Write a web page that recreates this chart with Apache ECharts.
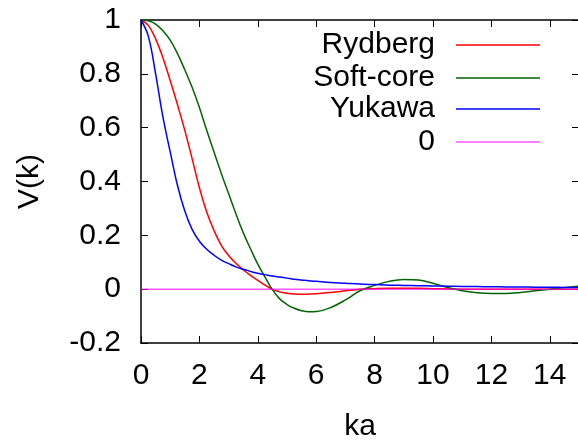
<!DOCTYPE html>
<html>
<head>
<meta charset="utf-8">
<script src="https://cdn.jsdelivr.net/npm/echarts@6/dist/echarts.min.js"></script>
<style>html,body{margin:0;padding:0;background:#fff;}#c{width:578px;height:440px;}</style>
</head>
<body>
<div id="c"></div>
<script>
const kValues = [0,0.25,0.5,0.75,1,1.25,1.5,1.75,2,2.25,2.5,2.75,3,3.25,3.5,3.75,4,4.25,4.5,4.75,5,5.25,5.5,5.75,6,
  6.5,7,7.5,8,8.5,9,9.5,10,10.5,11,11.5,12,12.5,13,13.5,14,14.5,15];
const rydberg = [1,0.98,0.93,0.86,0.775,0.685,0.59,0.485,0.377,0.287,0.218,0.163,0.125,0.096,0.072,0.051,0.033,0.015,-0.001,-0.01,-0.015,-0.018,-0.019,-0.018,-0.017,
  -0.012,-0.006,0,0.002,0.003,0.003,0.003,0.002,0.001,0,0,0,0,0,0,0,0,0];
const softCore = [1,0.997,0.985,0.96,0.925,0.875,0.815,0.75,0.675,0.59,0.51,0.43,0.355,0.28,0.21,0.15,0.093,0.045,-0.002,-0.036,-0.057,-0.071,-0.08,-0.084,-0.083,
  -0.068,-0.04,-0.006,0.014,0.029,0.036,0.034,0.022,0.006,-0.006,-0.013,-0.016,-0.016,-0.012,-0.006,0,0.006,0.011];
const yukawa = [1,0.94,0.8,0.64,0.51,0.385,0.29,0.222,0.178,0.148,0.126,0.108,0.095,0.083,0.074,0.066,0.059,0.054,0.049,0.045,0.041,0.037,0.034,0.031,0.029,
  0.025,0.022,0.019,0.017,0.015,0.014,0.013,0.012,0.011,0.01,0.0095,0.009,0.0085,0.008,0.0075,0.007,0.0065,0.006];
const zeroLineK = [0,15];
const zeroLineV = [0,0];
const seriesNames = ['Rydberg','Soft-core','Yukawa','0'];
const xTicks = [0,2,4,6,8,10,12,14];
const yTicks = [-0.2,0,0.2,0.4,0.6,0.8,1];

const FONT = 'Liberation Sans, Arial, sans-serif';
const pairs = (xs, ys) => xs.map((x, i) => [x, ys[i]]);
const colors = ['#ff0000','#006400','#0000ff','#ff00ff'];
const legendTops = [30, 63, 94, 127];

const chart = echarts.init(document.getElementById('c'));
const axisLine = {show: true, onZero: false, lineStyle: {color: '#000', width: 1.5}};
const tick = {show: true, inside: true, length: 7, lineStyle: {color: '#000', width: 1}};
const labelStyle = {color: '#000', fontSize: 30, fontFamily: FONT};

chart.setOption({
  animation: false,
  backgroundColor: '#fff',
  grid: {left: 141, top: 20, right: -1, bottom: 97, containLabel: false, outerBoundsMode: 'none'},
  legend: seriesNames.map((n, i) => ({
    data: [n], orient: 'vertical', align: 'right', right: 38, top: legendTops[i],
    icon: 'rect', itemWidth: 84, itemHeight: i === 3 ? 1 : 1.5, itemGap: 0, padding: 0,
    formatter: '{a|{name}}',
    textStyle: {color: '#000', fontSize: 30, fontFamily: FONT,
      rich: {a: {fontSize: 30, fontFamily: FONT, color: '#000', padding: [0, 16, 0, 0], lineHeight: 30}}}
  })),
  xAxis: [{
    type: 'value', min: 0, max: 15, interval: 2, position: 'bottom',
    name: 'ka', nameLocation: 'middle', nameGap: 69,
    nameTextStyle: labelStyle,
    axisLine, axisTick: tick, splitLine: {show: false},
    axisLabel: Object.assign({margin: 18, showMaxLabel: false,
      formatter: v => xTicks.includes(v) ? String(v) : ''}, labelStyle)
  }, {
    type: 'value', min: 0, max: 15, interval: 2, position: 'top',
    axisLine, axisTick: tick, splitLine: {show: false}, axisLabel: {show: false}
  }],
  yAxis: [{
    type: 'value', min: -0.2, max: 1, interval: 0.2, position: 'left',
    name: 'V(k)', nameLocation: 'middle', nameGap: 96, nameRotate: 90,
    nameTextStyle: labelStyle,
    axisLine, axisTick: tick, splitLine: {show: false},
    axisLabel: Object.assign({margin: 20, padding: [5, 0, 0, 0],
      formatter: v => { const t = yTicks.find(y => Math.abs(y - v) < 1e-9); return t === undefined ? '' : String(t); }}, labelStyle)
  }, {
    type: 'value', min: -0.2, max: 1, interval: 0.2, position: 'right',
    axisLine, axisTick: tick, splitLine: {show: false}, axisLabel: {show: false}
  }],
  series: [
    {name: seriesNames[0], type: 'line', data: pairs(kValues, rydberg), smooth: 0.4, showSymbol: false, symbol: 'none', lineStyle: {color: colors[0], width: 1.5}, itemStyle: {color: colors[0]}},
    {name: seriesNames[1], type: 'line', data: pairs(kValues, softCore), smooth: 0.4, showSymbol: false, symbol: 'none', lineStyle: {color: colors[1], width: 1.5}, itemStyle: {color: colors[1]}},
    {name: seriesNames[2], type: 'line', data: pairs(kValues, yukawa), smooth: 0.4, showSymbol: false, symbol: 'none', lineStyle: {color: colors[2], width: 1.5}, itemStyle: {color: colors[2]}},
    {name: seriesNames[3], type: 'line', data: pairs(zeroLineK, zeroLineV), showSymbol: false, symbol: 'none', lineStyle: {color: colors[3], width: 1}, itemStyle: {color: colors[3]}}
  ]
});
</script>
</body>
</html>
